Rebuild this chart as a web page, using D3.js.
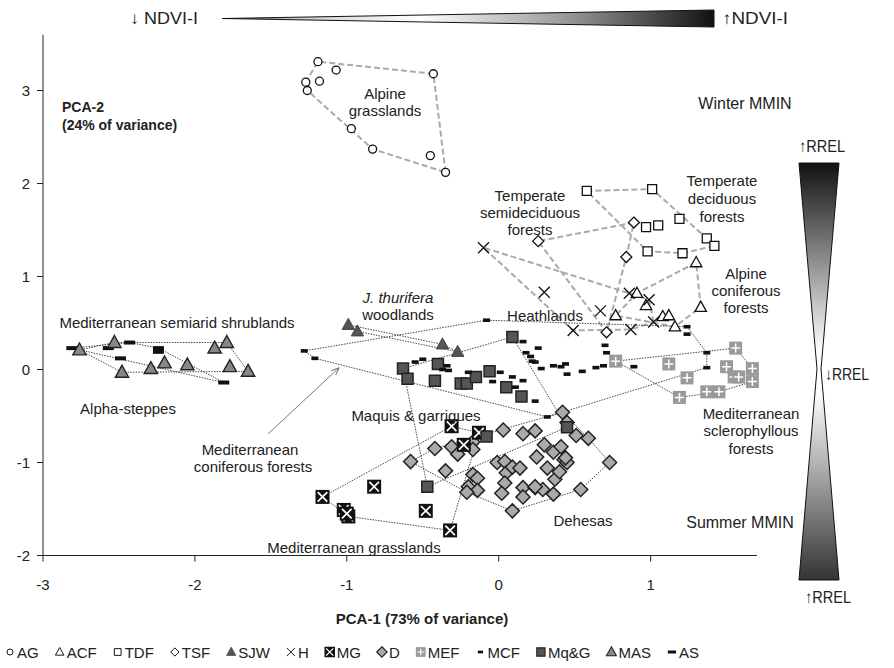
<!DOCTYPE html>
<html>
<head>
<meta charset="utf-8">
<title>PCA ecosystems</title>
<script src="https://d3js.org/d3.v7.min.js"></script>
<style>
body { margin: 0; background: #fff; }
svg text { font-family: "Liberation Sans", Arial, sans-serif; fill: #222; }
</style>
</head>
<body>
<div id="chart"></div>
<script>
// ---- data (PCA-1, PCA-2) ----
var AG = [[-1.19,3.31],[-1.07,3.22],[-0.43,3.18],[-1.27,3.09],[-1.18,3.10],[-1.26,3.00],[-0.97,2.59],[-0.83,2.37],[-0.45,2.30],[-0.35,2.12]];
var TDF = [[0.58,1.92],[1.01,1.94],[1.19,1.62],[0.97,1.53],[1.05,1.55],[0.98,1.27],[1.21,1.25],[1.37,1.41],[1.42,1.33]];
var TSF = [[0.26,1.38],[0.89,1.58],[0.84,1.21],[0.71,0.40]];
var ACF = [[1.30,1.15],[0.91,0.82],[0.97,0.69],[0.77,0.58],[1.08,0.57],[1.12,0.58],[1.16,0.46],[1.33,0.67]];
var H = [[-0.10,1.31],[0.30,0.83],[0.67,0.63],[0.49,0.42],[0.86,0.82],[0.99,0.75],[0.87,0.43],[1.02,0.51]];
var SJW = [[-0.99,0.48],[-0.93,0.41],[-0.37,0.27],[-0.27,0.19]];
var MAS = [[-2.76,0.21],[-2.53,0.29],[-1.87,0.23],[-1.79,0.29],[-2.48,-0.03],[-2.29,0.01],[-2.20,0.07],[-2.05,0.05],[-1.77,0.03],[-1.65,-0.02]];
var AS = [[-2.81,0.23],[-2.57,0.23],[-2.43,0.29],[-2.24,0.23],[-2.24,0.19],[-2.49,0.12],[-1.81,-0.14]];
var MCF = [[-1.28,0.20],[-1.21,0.12],[-0.08,0.53],[-0.55,0.08],[-0.50,0.11],[-0.37,0.00],[-0.33,-0.01],[-0.34,0.04],[-0.20,-0.03],
  [-0.04,-0.13],[0.01,-0.03],[0.09,-0.08],[0.16,-0.12],[0.16,0.30],[0.18,0.18],[0.26,0.23],[0.21,0.14],[0.22,0.09],[0.24,0.08],
  [0.28,0.01],[0.36,0.04],[0.41,0.03],[0.44,0.06],[0.45,-0.05],[0.55,-0.02],[0.64,0.02],[0.69,0.04],[0.70,0.26],[0.71,0.18],
  [0.89,0.03],[1.24,0.46],[1.24,0.38],[1.37,0.18],[1.37,0.02],[0.24,-0.34],[0.32,-0.51],[0.11,-0.19]];
var MqG = [[-0.63,0.01],[-0.60,-0.10],[-0.40,0.06],[-0.42,-0.12],[-0.25,-0.15],[-0.21,-0.15],[-0.15,-0.08],[-0.06,-0.02],
  [0.05,-0.19],[0.15,-0.29],[0.09,0.35],[-0.47,-1.26],[-0.08,-0.72],[0.45,-0.62]];
var MG = [[-0.31,-0.61],[-0.13,-0.68],[-0.23,-0.81],[-0.82,-1.26],[-1.16,-1.37],[-1.02,-1.51],[-0.99,-1.58],[-1.00,-1.55],[-0.48,-1.52],[-0.32,-1.73]];
var D = [[-0.58,-0.99],[-0.42,-0.85],[-0.35,-1.09],[-0.31,-0.83],[-0.27,-0.91],[-0.17,-0.78],[-0.17,-0.86],[-0.17,-1.13],[-0.14,-1.17],
  [-0.20,-1.26],[-0.14,-1.30],[-0.21,-1.32],[0.03,-0.65],[0.16,-0.69],[0.24,-0.66],[-0.01,-1.00],[0.04,-0.99],[0.05,-1.11],
  [0.09,-1.05],[0.14,-1.06],[0.04,-1.22],[0.02,-1.33],[0.16,-1.27],[0.16,-1.37],[0.24,-1.27],[0.29,-1.29],[0.36,-1.34],
  [0.09,-1.52],[0.25,-0.94],[0.30,-0.81],[0.36,-0.89],[0.41,-0.83],[0.43,-0.97],[0.32,-1.06],[0.37,-1.18],[0.40,-1.10],
  [0.42,-0.46],[0.45,-0.57],[0.51,-0.71],[0.45,-1.00],[0.59,-0.74],[0.73,-1.00],[0.54,-1.29],[0.44,-0.95],[0.24,-1.26]];
var MEF = [[0.77,0.09],[1.12,0.06],[1.24,-0.09],[1.19,-0.30],[1.37,-0.24],[1.45,-0.24],[1.56,0.23],[1.50,0.03],[1.55,-0.08],
  [1.58,-0.08],[1.67,0.01],[1.67,-0.13]];

var xTicks = [-3, -2, -1, 0, 1];
var yTicks = [-2, -1, 0, 1, 2, 3];
var legendCodes = ["AG","ACF","TDF","TSF","SJW","H","MG","D","MEF","MCF","Mq&G","MAS","AS"];

// ---- layout ----
var W = 894, H0 = 668;
var x = d3.scaleLinear().domain([-3, 1.7]).range([43, 43 + 4.7 * 151.9]);
var y = d3.scaleLinear().domain([-2, 3.6]).range([555.5, 555.5 - 5.6 * 93]);

var svg = d3.select("#chart").append("svg").attr("width", W).attr("height", H0);
var defs = svg.append("defs");

// gradients for the two wedges
var gx = defs.append("linearGradient").attr("id", "gx").attr("x1", 0).attr("x2", 1).attr("y1", 0).attr("y2", 0);
[[0,"#666"],[0.15,"#ccc"],[0.4,"#fff"],[0.7,"#999"],[1,"#111"]].forEach(function(s){
  gx.append("stop").attr("offset", s[0]).attr("stop-color", s[1]);
});
var gy = defs.append("linearGradient").attr("id", "gy").attr("x1", 0).attr("x2", 0).attr("y1", 0).attr("y2", 1);
[[0,"#111"],[0.45,"#fff"],[0.55,"#fff"],[1,"#333"]].forEach(function(s){
  gy.append("stop").attr("offset", s[0]).attr("stop-color", s[1]);
});

// axes
svg.append("line").attr("x1", x(-3)).attr("x2", x(-3)).attr("y1", y(3.6)).attr("y2", y(-2)).attr("stroke", "#222");
svg.append("line").attr("x1", x(-3)).attr("x2", x(1.7)).attr("y1", y(-2)).attr("y2", y(-2)).attr("stroke", "#222");
xTicks.forEach(function(t){
  svg.append("line").attr("x1", x(t)).attr("x2", x(t)).attr("y1", y(-2)).attr("y2", y(-2) + 6).attr("stroke", "#222");
  svg.append("text").attr("x", x(t)).attr("y", 584).attr("text-anchor", "middle").attr("dominant-baseline", "central")
    .style("font-size", "15px").text(t);
});
yTicks.forEach(function(t){
  svg.append("line").attr("x1", x(-3) - 6).attr("x2", x(-3)).attr("y1", y(t)).attr("y2", y(t)).attr("stroke", "#222");
  svg.append("text").attr("x", 30).attr("y", y(t)).attr("text-anchor", "end").attr("dominant-baseline", "central")
    .style("font-size", "15px").text(t);
});

var plot = svg.append("g");

// group outlines (convex hull of each group)
var groups = [
  {pts: AG, dash: true}, {pts: TDF, dash: true}, {pts: TSF, dash: true}, {pts: ACF, dash: true}, {pts: H, dash: true},
  {pts: SJW}, {pts: MAS}, {pts: AS}, {pts: MCF}, {pts: MqG}, {pts: MG}, {pts: D}, {pts: MEF}
];
groups.forEach(function(g){
  var hull = d3.polygonHull(g.pts.map(function(p){ return [x(p[0]), y(p[1])]; }));
  if (!hull) return;
  plot.append("path").attr("d", "M" + hull.join("L") + "Z").attr("fill", "none")
    .attr("stroke", g.dash ? "#aaa" : "#333")
    .attr("stroke-width", g.dash ? 2 : 0.9)
    .attr("stroke-dasharray", g.dash ? "6,3" : "1.5,1.2");
});

// marker drawing
function tri(s){ return "M0," + (-s) + "L" + (s*0.95) + "," + (s*0.7) + "L" + (-s*0.95) + "," + (s*0.7) + "Z"; }
function dia(s){ return "M0," + (-s) + "L" + s + ",0L0," + s + "L" + (-s) + ",0Z"; }
function sq(s){ return "M" + (-s) + "," + (-s) + "H" + s + "V" + s + "H" + (-s) + "Z"; }

var markers = {
  AG: function(g){ g.append("circle").attr("r", 4).attr("fill", "#fff").attr("stroke", "#111").attr("stroke-width", 1.3); },
  ACF: function(g){ g.append("path").attr("d", tri(6)).attr("fill", "#fff").attr("stroke", "#111").attr("stroke-width", 1.3); },
  TDF: function(g){ g.append("path").attr("d", sq(4.5)).attr("fill", "#fff").attr("stroke", "#111").attr("stroke-width", 1.3); },
  TSF: function(g){ g.append("path").attr("d", dia(5.5)).attr("fill", "#fff").attr("stroke", "#111").attr("stroke-width", 1.3); },
  SJW: function(g){ g.append("path").attr("d", tri(6.5)).attr("fill", "#555").attr("stroke", "#444").attr("stroke-width", 1); },
  H: function(g){ g.append("path").attr("d", "M-5.5,-5.5L5.5,5.5M-5.5,5.5L5.5,-5.5").attr("stroke", "#111").attr("stroke-width", 1.3); },
  MG: function(g){
    g.append("path").attr("d", sq(7)).attr("fill", "#111");
    g.append("path").attr("d", "M-4.8,-4.8L4.8,4.8M-4.8,4.8L4.8,-4.8").attr("stroke", "#fff").attr("stroke-width", 1.7);
  },
  D: function(g){ g.append("path").attr("d", dia(7)).attr("fill", "#aaa").attr("stroke", "#222").attr("stroke-width", 1.5); },
  MEF: function(g){
    g.append("path").attr("d", sq(6.5)).attr("fill", "#9a9a9a");
    g.append("path").attr("d", "M-4.5,0H4.5M0,-4.5V4.5").attr("stroke", "#fff").attr("stroke-width", 1.5);
  },
  MCF: function(g){ g.append("rect").attr("x", -3.5).attr("y", -1.8).attr("width", 7).attr("height", 3.6).attr("fill", "#111"); },
  "Mq&G": function(g){ g.append("path").attr("d", sq(5.5)).attr("fill", "#555").attr("stroke", "#222").attr("stroke-width", 1.5); },
  MAS: function(g){ g.append("path").attr("d", tri(7)).attr("fill", "#888").attr("stroke", "#222").attr("stroke-width", 1.4); },
  AS: function(g){ g.append("rect").attr("x", -5.5).attr("y", -2).attr("width", 11).attr("height", 4).attr("fill", "#111"); }
};

var drawOrder = [["D", D], ["MG", MG], ["MEF", MEF], ["Mq&G", MqG], ["MCF", MCF], ["AS", AS], ["MAS", MAS],
  ["SJW", SJW], ["AG", AG], ["TDF", TDF], ["TSF", TSF], ["ACF", ACF], ["H", H]];
drawOrder.forEach(function(d){
  d[1].forEach(function(p){
    var g = plot.append("g").attr("transform", "translate(" + x(p[0]) + "," + y(p[1]) + ")");
    markers[d[0]](g);
  });
});

// arrow for Mediterranean coniferous forests
defs.append("marker").attr("id", "arr").attr("viewBox", "0 0 10 10").attr("refX", 10).attr("refY", 5)
  .attr("markerWidth", 10).attr("markerHeight", 10).attr("orient", "auto")
  .append("path").attr("d", "M0,1L10,5L0,9").attr("fill", "none").attr("stroke", "#555").attr("stroke-width", 1);
svg.append("line").attr("x1", 268).attr("y1", 434).attr("x2", x(-1.05)).attr("y2", y(0.02))
  .attr("stroke", "#555").attr("stroke-width", 0.8).attr("marker-end", "url(#arr)");

// text labels
var labels = [
  [385, 93, "Alpine"], [385, 110, "grasslands"],
  [530, 195, "Temperate"], [530, 212, "semideciduous"], [530, 229, "forests"],
  [722, 180, "Temperate"], [722, 198, "deciduous"], [722, 216, "forests"],
  [746, 273, "Alpine"], [746, 290, "coniferous"], [746, 307, "forests"],
  [545, 315, "Heathlands"],
  [398, 314, "woodlands"],
  [177, 322, "Mediterranean semiarid shrublands"],
  [128, 408, "Alpha-steppes"],
  [416, 415, "Maquis & garrigues"],
  [250, 449, "Mediterranean"], [253, 466, "coniferous forests"],
  [354, 547, "Mediterranean grasslands"],
  [583, 520, "Dehesas"],
  [751, 413, "Mediterranean"], [751, 430, "sclerophyllous"], [751, 448, "forests"]
];
labels.forEach(function(l){
  svg.append("text").attr("x", l[0]).attr("y", l[1]).attr("text-anchor", "middle").attr("dominant-baseline", "central")
    .style("font-size", "15px").text(l[2]);
});
svg.append("text").attr("x", 398).attr("y", 297).attr("text-anchor", "middle").attr("dominant-baseline", "central")
  .style("font-size", "15px").style("font-style", "italic").text("J. thurifera");

svg.append("text").attr("x", 745).attr("y", 103).attr("text-anchor", "middle").attr("dominant-baseline", "central")
  .style("font-size", "16px").text("Winter MMIN");
svg.append("text").attr("x", 740).attr("y", 522).attr("text-anchor", "middle").attr("dominant-baseline", "central")
  .style("font-size", "16px").text("Summer MMIN");

svg.append("text").attr("x", 62).attr("y", 107).attr("dominant-baseline", "central")
  .style("font-size", "14px").style("font-weight", "bold").text("PCA-2");
svg.append("text").attr("x", 62).attr("y", 125).attr("dominant-baseline", "central")
  .style("font-size", "14px").style("font-weight", "bold").text("(24% of variance)");
svg.append("text").attr("x", 422).attr("y", 618).attr("text-anchor", "middle").attr("dominant-baseline", "central")
  .style("font-size", "15px").style("font-weight", "bold").text("PCA-1 (73% of variance)");

// NDVI-I wedge
svg.append("path").attr("d", "M222,18.5L714,10L714,27Z").attr("fill", "url(#gx)").attr("stroke", "#111").attr("stroke-width", 1);
svg.append("text").attr("x", 130).attr("y", 18.5).attr("dominant-baseline", "central")
  .attr("textLength", 68).attr("lengthAdjust", "spacingAndGlyphs").style("font-size", "17px").text("\u2193 NDVI-I");
svg.append("text").attr("x", 722).attr("y", 18.5).attr("dominant-baseline", "central")
  .attr("textLength", 66).attr("lengthAdjust", "spacingAndGlyphs").style("font-size", "17px").text("\u2191NDVI-I");

// RREL wedge
var bx = 819;
svg.append("path").attr("d", "M" + (bx-20) + ",163L" + (bx+20) + ",163L" + (bx+2) + ",369L" + (bx+20) + ",580L" + (bx-20) + ",580L" + (bx-2) + ",369Z")
  .attr("fill", "url(#gy)").attr("stroke", "#111").attr("stroke-width", 1);
svg.append("text").attr("x", bx - 20).attr("y", 146).attr("dominant-baseline", "central")
  .attr("textLength", 46).attr("lengthAdjust", "spacingAndGlyphs").style("font-size", "17px").text("\u2191RREL");
svg.append("text").attr("x", bx + 6).attr("y", 374).attr("dominant-baseline", "central")
  .attr("textLength", 44).attr("lengthAdjust", "spacingAndGlyphs").style("font-size", "17px").text("\u2193RREL");
svg.append("text").attr("x", bx - 14).attr("y", 597).attr("dominant-baseline", "central")
  .attr("textLength", 46).attr("lengthAdjust", "spacingAndGlyphs").style("font-size", "17px").text("\u2191RREL");

// legend
var lx = 5, ly = 652;
var lg = svg.append("g");
legendCodes.forEach(function(code){
  var g = lg.append("g").attr("transform", "translate(" + (lx + 5) + "," + ly + ") scale(0.75)");
  markers[code](g);
  var t = lg.append("text").attr("x", lx + 12).attr("y", ly).attr("dominant-baseline", "central")
    .style("font-size", "15px").text(code);
  lx += 12 + t.node().getComputedTextLength() + 16;
});
</script>
</body>
</html>
